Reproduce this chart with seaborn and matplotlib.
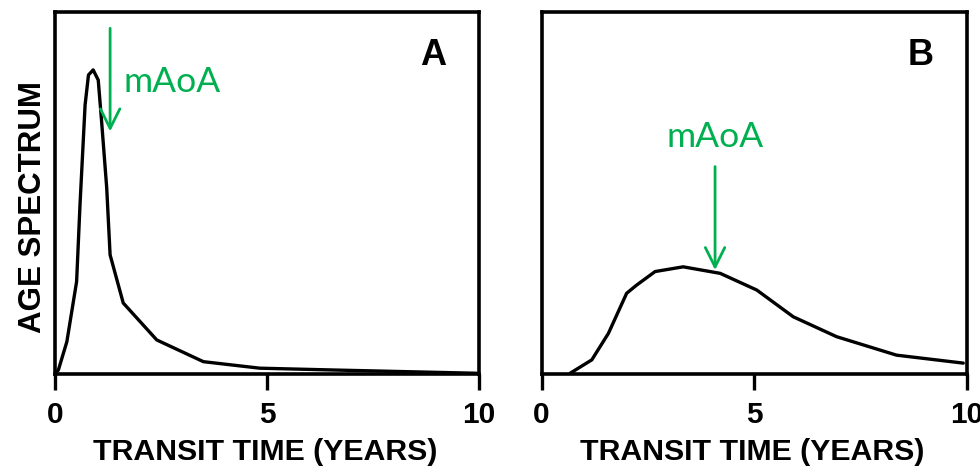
import matplotlib
matplotlib.use("Agg")
import matplotlib.pyplot as plt
import pandas as pd
import seaborn as sns

# Age spectrum, panel A (narrow, early peak)
time_a = [0.0, 0.08, 0.28, 0.51, 0.59, 0.71, 0.79, 0.90, 1.02, 1.10, 1.22, 1.30, 1.61, 2.40, 3.50, 4.83, 6.57, 9.94]
spec_a = [0.0, 1.1, 8.9, 25.5, 46.7, 74.3, 82.6, 84.0, 81.2, 69.7, 51.4, 32.9, 19.6, 9.4, 3.4, 1.6, 1.1, 0.2]

# Age spectrum, panel B (broad, later peak)
time_b = [0.67, 1.18, 1.57, 2.00, 2.24, 2.67, 3.33, 4.20, 5.06, 5.92, 6.94, 8.35, 9.92]
spec_b = [0.2, 3.9, 11.2, 22.3, 24.6, 28.3, 29.6, 27.8, 23.2, 15.8, 10.3, 5.2, 3.0]

# Mean age-of-air markers (x position, arrow tail, arrow tip)
maoa_x = [1.30, 4.08]
maoa_tail = [95.5, 57.3]
maoa_tip = [67.0, 28.7]

panel_labels = ["A", "B"]
x_ticks = [0, 5, 10]

sns.set_style("ticks")
plt.rcParams["font.family"] = ["Liberation Sans", "DejaVu Sans"]
plt.rcParams["text.color"] = "black"
plt.rcParams["axes.labelcolor"] = "black"
plt.rcParams["xtick.color"] = "black"
plt.rcParams["xtick.labelcolor"] = "black"

GREEN = "#00B050"
NOTE_FONT = ["Lato", "DejaVu Sans"]

fig = plt.figure(figsize=(9.8, 4.68), dpi=100)
ax_a = fig.add_axes([0.0561, 0.2009, 0.4327, 0.7735])
ax_b = fig.add_axes([0.5527, 0.2009, 0.4337, 0.7735])

df_a = pd.DataFrame({"time": time_a, "spectrum": spec_a})
df_b = pd.DataFrame({"time": time_b, "spectrum": spec_b})

for ax, df in ((ax_a, df_a), (ax_b, df_b)):
    sns.lineplot(data=df, x="time", y="spectrum", ax=ax, color="black",
                 linewidth=2.4, sort=False, solid_joinstyle="round")
    ax.set_xlim(0, 10)
    ax.set_ylim(0, 100)
    ax.set_xticks(x_ticks)
    ax.set_xticklabels([str(t) for t in x_ticks], fontsize=21.5, fontweight="bold",
                       color="black")
    ax.set_yticks([])
    ax.tick_params(axis="x", direction="out", length=11.5, width=2.4, pad=8,
                   color="black", top=False)
    for sp in ax.spines.values():
        sp.set_linewidth(2.6)
        sp.set_color("black")
        sp.set_visible(True)
    ax.set_xlabel("TRANSIT TIME (YEARS)", fontsize=21.8, fontweight="bold",
                  color="black")
    ax.xaxis.set_label_coords(0.495, -0.177)
    ax.set_ylabel("")
    ax.set_facecolor("white")

ax_a.set_ylabel("AGE SPECTRUM", fontsize=22.5, fontweight="bold", color="black")
ax_a.yaxis.set_label_coords(-0.016, 0.462)

for ax, lab in zip((ax_a, ax_b), panel_labels):
    ax.text(0.892, 0.853, lab, transform=ax.transAxes, ha="center", va="baseline",
            fontsize=26, fontweight="bold", color="black")

# mAoA arrows
for ax, x, y0, y1 in zip((ax_a, ax_b), maoa_x, maoa_tail, maoa_tip):
    ax.annotate("", xy=(x, y1), xytext=(x, y0),
                arrowprops=dict(arrowstyle="->,head_length=1.4,head_width=0.7",
                                color=GREEN, lw=2.0, shrinkA=0, shrinkB=0))

ax_a.text(1.61, 78.0, "mAoA", color=GREEN, fontsize=25.5, family=NOTE_FONT,
          ha="left", va="baseline")
ax_b.text(maoa_x[1], 62.8, "mAoA", color=GREEN, fontsize=25.5, family=NOTE_FONT,
          ha="center", va="baseline")

fig.savefig("out.png", dpi=100, facecolor="white")
